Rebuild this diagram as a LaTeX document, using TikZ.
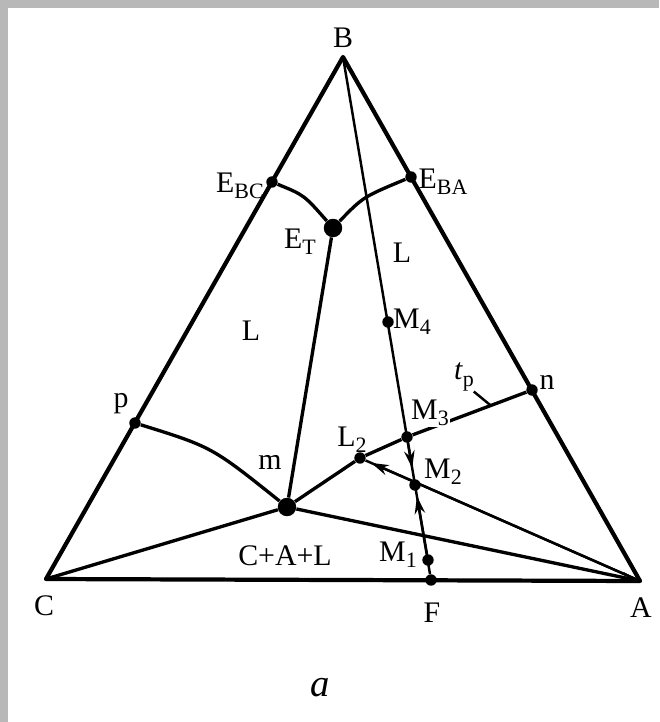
\documentclass[tikz,border=0pt]{standalone}
\usepackage{fontspec}
\setmainfont{Liberation Serif}
\usepackage{tikz}
\usetikzlibrary{calc, positioning, arrows.meta}
\newcommand{\lowsub}[1]{\raisebox{-0.45ex}{\fontsize{12.5}{13}\selectfont #1}}
\tikzset{
    phase/.style={
        x=0.02cm, y=-0.02cm,
        font=\fontsize{17}{20}\selectfont,
        >={Stealth[length=10pt, width=6pt]},
        side/.style={line width=2.4pt, line join=round},
        bound/.style={line width=1.9pt},
        tieline/.style={line width=1.4pt},
        flow/.style={line width=1.4pt, ->},
        dot/.style={circle, fill=black, inner sep=0pt, minimum size=6.5pt},
        bigdot/.style={dot, minimum size=10.5pt},
        tag/.style={inner sep=1pt}
    }
}

\begin{document}
\begin{tikzpicture}[phase]
        % Frame
        \useasboundingbox (0,0) rectangle (659,722);
        \fill[black!28] (0,0) rectangle (659,722);
        \fill[white] (8,8) rectangle (659,722);

        % Vertices
        \coordinate (B) at (343,57);
        \coordinate (C) at (46,579);
        \coordinate (A) at (640,581);

        % Points on the sides
        \node[dot] (EBC) at (272,182) {};
        \node[dot] (EBA) at (411,177) {};
        \node[dot] (p) at (135,423) {};
        \node[dot] (n) at (532,390) {};
        \node[dot] (F) at (431,580) {};

        % Inner points
        \node[bigdot] (ET) at (333,228) {};
        \node[bigdot] (m) at (287,507) {};
        \node[dot] (L2) at (360,458) {};
        \node[dot] (M4) at (388,322) {};
        \node[dot] (M3) at (407,437) {};
        \node[dot] (M2) at (415,485) {};
        \node[dot] (M1) at (428,560) {};

        % Triangle
        \draw[side] (B) -- (C) -- (A) -- cycle;

        % Boundary curves
        \draw[bound] (EBC) .. controls (304,195) .. (ET);
        \draw[bound] (EBA) .. controls (363,197) .. (ET);
        \draw[bound] (ET) -- (m);
        \draw[bound] (p) .. controls (212,447) .. (m);
        \draw[bound] (C) -- (m);
        \draw[bound, ->] (m) -- (A);
        \draw[bound] (m) -- (L2) -- (M3) -- (n);

        % Tick of t_p
        \coordinate (tpfoot) at ($(M3)!0.67!(n)$);
        \draw[tieline] (tpfoot) -- ++(-17,-14) coordinate (tptop);

        % Path of the melt
        \draw[tieline] (B) -- (F);
        \draw[tieline] (A) -- (L2);
        \draw[flow] (A) -- ($(A)!0.96!(L2)$);
        \draw[flow] (M3) -- ($(M3)!0.65!(M2)$);
        \draw[flow] (M1) -- ($(M1)!0.85!(M2)$);

        % Labels
        \node[tag] (lblB) at (343,38) {B};
        \node[tag] (lblC) at (44,606) {C};
        \node[tag] (lblA) at (641,608) {A};
        \node[tag] (lblF) at (432,613) {F};
        \node[tag] (lblEBC) at (240,186) {E\lowsub{BC}};
        \node[tag] (lblEBA) at (443,182) {E\lowsub{BA}};
        \node[tag] (lblET) at (300,242) {E\lowsub{T}};
        \node[tag] (lblLup) at (402,253) {L};
        \node[tag] (lblLleft) at (251,331) {L};
        \node[tag] (lblM4) at (412,322) {M\lowsub{4}};
        \node[tag] (lblp) at (121,404) {p};
        \node[tag] (lbln) at (547,382) {n};
        \node[tag] (lbltp) at (464,377) {\textit{t}\lowsub{p}};
        \node[tag, fill=white, inner sep=0.5pt] (lblM3) at (430,413) {M\lowsub{3}};
        \node[tag] (lblL2) at (352,440) {L\lowsub{2}};
        \node[tag] (lblM2) at (443,472) {M\lowsub{2}};
        \node[tag] (lblm) at (270,462) {m};
        \node[tag] (lblCAL) at (285,556) {C+A+L};
        \node[tag] (lblM1) at (398,555) {M\lowsub{1}};
        \node[tag, font=\fontsize{22}{24}\selectfont\itshape] (lbla) at (320,688) {a};
    \end{tikzpicture}
\end{document}
